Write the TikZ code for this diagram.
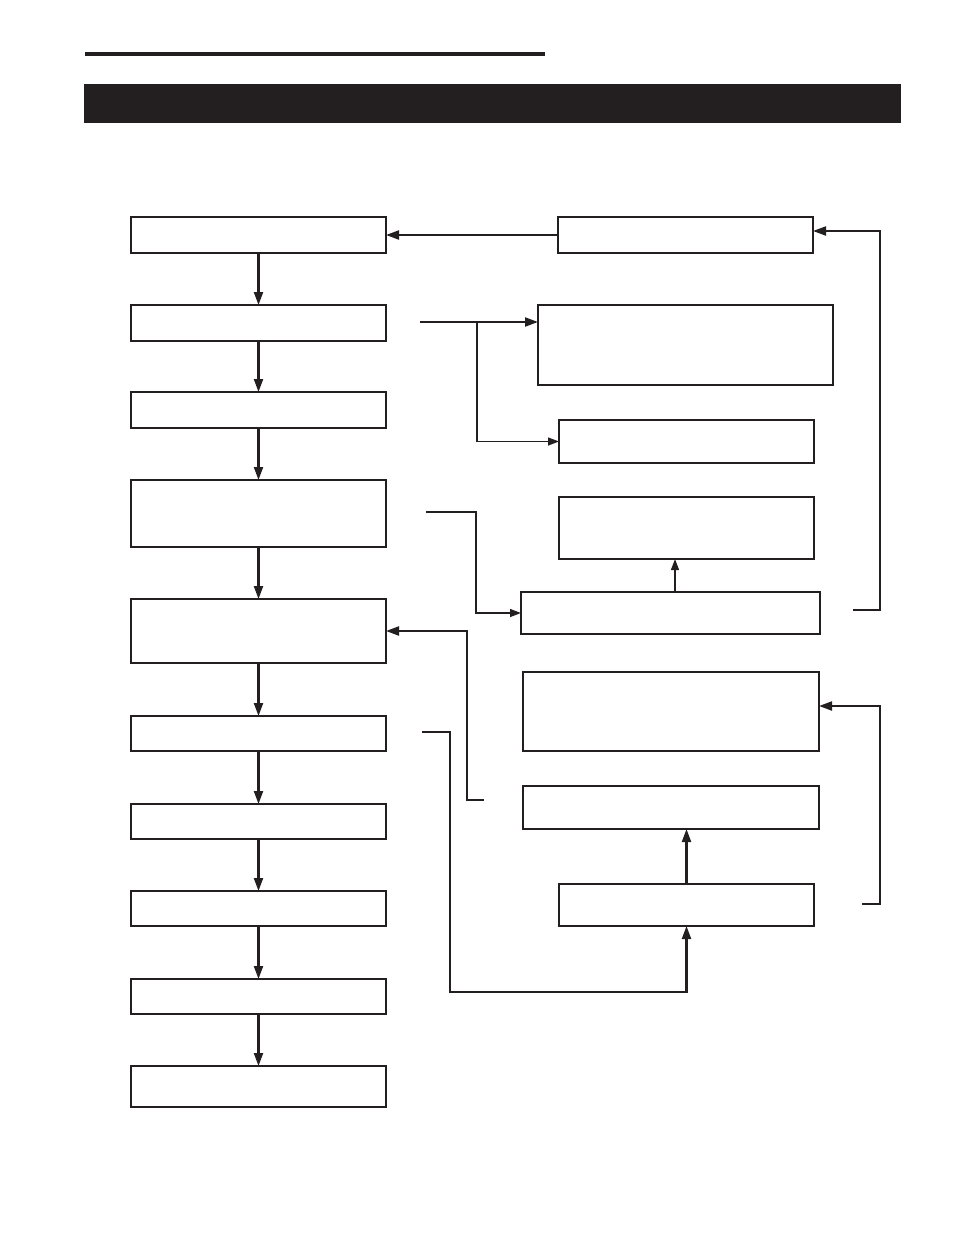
\documentclass[tikz,border=0pt]{standalone}
\usetikzlibrary{arrows.meta,calc}
\definecolor{ink}{RGB}{35,31,32}
\begin{document}
\begin{tikzpicture}[x=1pt,y=-1pt,
  box/.style={draw=ink,line width=1.7pt,rectangle,inner sep=0pt,outer sep=0pt},
  arr/.style={draw=ink,line width=2.1pt,-{Triangle[length=13pt,width=9pt]}},
  tarr/.style={draw=ink,line width=1.3pt,-{Triangle[length=11pt,width=8pt]}},
  tline/.style={draw=ink,line width=1.3pt}]
\useasboundingbox (0,0) rectangle (954,1235);
% header
\fill[ink] (85,52) rectangle (545,56);
\fill[ink] (84,84) rectangle (901,123);
% left column
\node[box,minimum width=255pt,minimum height=36pt] (b1) at (258.5,235) {};
\node[box,minimum width=255pt,minimum height=36pt] (b2) at (258.5,323) {};
\node[box,minimum width=255pt,minimum height=36pt] (b3) at (258.5,410) {};
\node[box,minimum width=255pt,minimum height=67pt] (b4) at (258.5,513.5) {};
\node[box,minimum width=255pt,minimum height=64pt] (b5) at (258.5,631) {};
\node[box,minimum width=255pt,minimum height=35pt] (b6) at (258.5,733.5) {};
\node[box,minimum width=255pt,minimum height=35pt] (b7) at (258.5,821.5) {};
\node[box,minimum width=255pt,minimum height=35pt] (b8) at (258.5,908.5) {};
\node[box,minimum width=255pt,minimum height=35pt] (b9) at (258.5,996.5) {};
\node[box,minimum width=255pt,minimum height=41pt] (b10) at (258.5,1086.5) {};
% right column
\node[box,minimum width=255pt,minimum height=36pt] (r1) at (685.5,235) {};
\node[box,minimum width=295pt,minimum height=80pt] (r2) at (685.5,345) {};
\node[box,minimum width=255pt,minimum height=43pt] (r3) at (686.5,441.5) {};
\node[box,minimum width=255pt,minimum height=62pt] (r4) at (686.5,528) {};
\node[box,minimum width=299pt,minimum height=42pt] (r5) at (670.5,613) {};
\node[box,minimum width=296pt,minimum height=79pt] (r6) at (671,711.5) {};
\node[box,minimum width=296pt,minimum height=43pt] (r7) at (671,807.5) {};
\node[box,minimum width=255pt,minimum height=42pt] (r8) at (686.5,905) {};
% free ends
\coordinate (c1) at (420,322);
\coordinate (j1) at (477,322);
\coordinate (c2) at (426,512);
\coordinate (c3) at (853,610);
\coordinate (c4) at (862,904);
\coordinate (c5) at (484,800);
\coordinate (c6) at (422,732);
% left chain
\foreach \a/\b in {b1/b2,b2/b3,b3/b4,b4/b5,b5/b6,b6/b7,b7/b8,b8/b9,b9/b10}
  \draw[arr] (\a.south) -- (\b.north);
% connectors
\draw[arr] (r1.west) -- (b1.east);
\draw[arr] (c1) -- (r2.west |- c1);
\draw[tarr] (j1) |- (r3.west);
\draw[tarr] (c2) -- ++(50,0) |- (r5.west);
\draw[tarr] ([xshift=4.5pt]r5.north) -- ([xshift=4.5pt]r5.north |- r4.south);
\draw[arr] (c3) -- ++(27,0) |- ([yshift=4pt]r1.east);
\draw[arr] (c4) -- ++(18,0) |- ([yshift=5.5pt]r6.east);
\draw[arr] (c5) -- ++(-17,0) |- (b5.east);
\draw[arr] (r8.north) -- (r8.north |- r7.south);
\draw[arr] (c6) -- ++(28,0) -- ++(0,260) -| (r8.south);
\end{tikzpicture}
\end{document}
